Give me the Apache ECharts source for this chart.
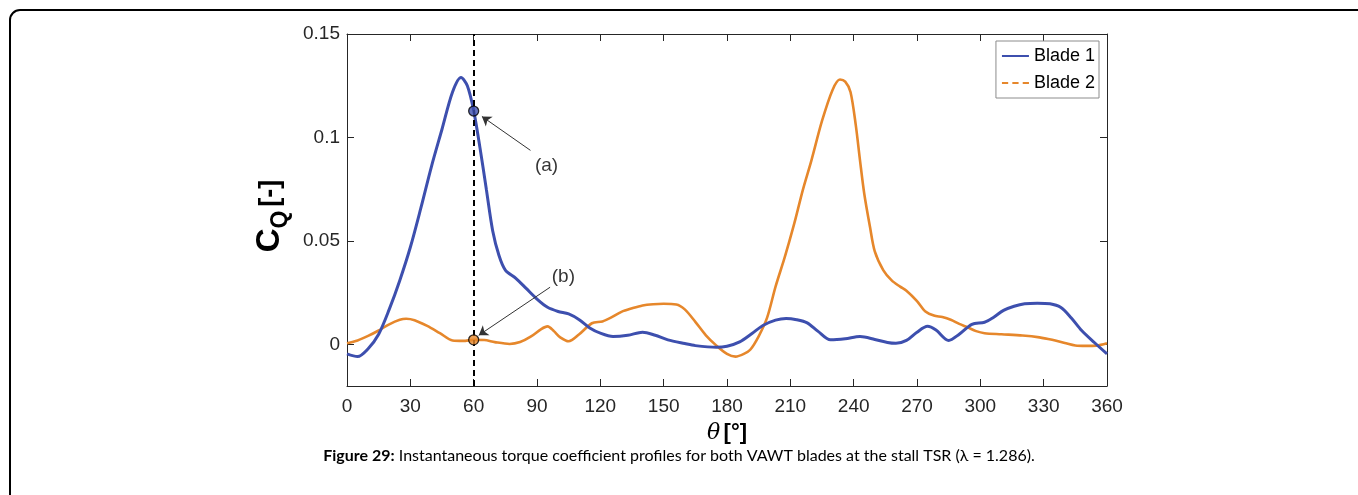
<!DOCTYPE html>
<html>
<head>
<meta charset="utf-8">
<script src="https://cdn.jsdelivr.net/npm/echarts@6/dist/echarts.min.js"></script>
<style>
html,body{margin:0;padding:0;background:#fff;}
#chart{width:1358px;height:495px;}
</style>
</head>
<body>
<div id="chart"></div>
<script>
// ---- data ----
const blade1Theta = [0,5,10,15,20,25,30,35,40,45,50,54,57,60,63,66,69,72,75,80,85,90,95,100,105,110,115,120,126,133,140,146,152,160,165,175,180,186,192,197,203,208,213,218,223,229,236,243,250,256,260,265,270,275,279,285,290,296,302,306,311,316,321,327,333,338,343,348,354,360];
const blade1Cq = [-0.0045,-0.0058,-0.002,0.005,0.017,0.031,0.047,0.066,0.086,0.104,0.122,0.129,0.125,0.113,0.095,0.075,0.055,0.043,0.036,0.032,0.027,0.022,0.018,0.016,0.0148,0.012,0.008,0.0055,0.0039,0.0045,0.006,0.0045,0.0023,0.0005,-0.0005,-0.0013,-0.0008,0.0013,0.0055,0.0092,0.0118,0.0126,0.012,0.0105,0.0065,0.0023,0.0028,0.0039,0.0025,0.001,0.0006,0.002,0.006,0.0088,0.007,0.002,0.005,0.0098,0.0108,0.013,0.0165,0.0185,0.0197,0.02,0.0197,0.018,0.013,0.0068,0.001,-0.0045];
const blade2Theta = [0,5,10,15,20,25,28,32,38,44,50,55,60,65,70,77,82,87,92,95,98,101,105,110,116,121,125,130,135,140,145,150,156,160,165,170,175,180,184,188,191,195,199,203,207,209,212,216,220,225,230,233.5,236,238.5,241,243,245,247.7,250,254,258,262,265,270,274,278,282,286,290,294,298,302,310,320,328,334,340,345,350,355,360];
const blade2Cq = [0.0006,0.002,0.0042,0.0068,0.0098,0.012,0.0125,0.0118,0.009,0.0055,0.002,0.0018,0.0023,0.0022,0.0012,0.0003,0.0012,0.0038,0.0075,0.0088,0.0065,0.0035,0.0016,0.005,0.0103,0.0112,0.013,0.0158,0.0175,0.0189,0.0195,0.0197,0.0194,0.017,0.011,0.0045,-0.0005,-0.0045,-0.0058,-0.0045,-0.0025,0.004,0.013,0.028,0.041,0.048,0.059,0.075,0.089,0.108,0.123,0.128,0.127,0.122,0.106,0.089,0.073,0.057,0.045,0.036,0.031,0.028,0.026,0.021,0.016,0.014,0.0133,0.012,0.010,0.0083,0.0065,0.0055,0.005,0.0044,0.0035,0.0023,0.0008,-0.0004,-0.0006,-0.0005,0.0006];
const seriesNames = ['Blade 1','Blade 2'];
const xTicks = [0,30,60,90,120,150,180,210,240,270,300,330,360];
const yTicks = [0,0.05,0.1,0.15];
const markerTheta = 60;
const markerA = [60, 0.1128];
const markerB = [60, 0.0023];
const arrowA = [[86.9,0.0938],[63.9,0.1102]];
const arrowB = [[96.2,0.0277],[62.4,0.0045]];
const labelA = [94.5,0.0866];
const labelB = [102.5,0.0328];

const blue = '#3D4FAE';
const orange = '#E6872B';
const axisColor = '#262626';

function pairs(xs, ys){ return xs.map((x,i)=>[x, ys[i]]); }

const chart = echarts.init(document.getElementById('chart'));
const tickFont = {fontFamily:'Liberation Sans', fontSize:19, color:axisColor};

const option = {
  animation:false,
  backgroundColor:'#fff',
  grid:{left:347, right:251, top:34, bottom:109, containLabel:false},
  legend:{
    orient:'vertical', top:41, right:259,
    itemWidth:27, itemHeight:14, itemGap:9,
    padding:[6,4,6,6],
    borderColor:'#8c8c8c', borderWidth:1, backgroundColor:'#fff',
    textStyle:{fontFamily:'Liberation Sans', fontSize:18, color:'#000'},
    data:[
      {name:seriesNames[0], icon:'path://M0,6 L27,6 L27,8 L0,8 Z', itemStyle:{color:blue}},
      {name:seriesNames[1], icon:'path://M0,6 L6,6 L6,8 L0,8 Z M10,6 L16,6 L16,8 L10,8 Z M20,6 L26,6 L26,8 L20,8 Z', itemStyle:{color:orange}}
    ]
  },
  xAxis:[
    {type:'value', min:0, max:360, interval:30, position:'bottom',
     name:'{t|θ} {b|[°]}', nameLocation:'middle', nameGap:36,
     nameTextStyle:{rich:{
       t:{fontFamily:'DejaVu Serif', fontStyle:'italic', fontSize:22, color:'#000'},
       b:{fontFamily:'Liberation Sans', fontWeight:'bold', fontSize:22, color:'#000'}
     }},
     axisLine:{show:true, onZero:false, lineStyle:{color:axisColor, width:1}},
     axisTick:{show:true, inside:true, length:7, lineStyle:{color:axisColor}},
     axisLabel:{...tickFont, margin:11},
     splitLine:{show:false}},
    {type:'value', min:0, max:360, interval:30, position:'top',
     axisLine:{show:true, onZero:false, lineStyle:{color:axisColor, width:1}},
     axisTick:{show:true, inside:true, length:7, lineStyle:{color:axisColor}},
     axisLabel:{show:false}, splitLine:{show:false}}
  ],
  yAxis:[
    {type:'value', min:-0.02, max:0.15, position:'left',
     name:'{c|C}{q|Q}{s| }{u|[-]}', nameLocation:'middle', nameRotate:90, nameGap:52,
     nameTextStyle:{padding:[0,12,0,0], rich:{
       c:{fontFamily:'Liberation Sans', fontWeight:'bold', fontSize:33, color:'#000', lineHeight:44, verticalAlign:'middle'},
       q:{fontFamily:'Liberation Sans', fontWeight:'bold', fontSize:23, color:'#000', lineHeight:44, verticalAlign:'bottom'},
       s:{fontSize:14, lineHeight:44},
       u:{fontFamily:'Liberation Sans', fontWeight:'bold', fontSize:27, color:'#000', lineHeight:44, verticalAlign:'middle'}
     }},
     axisLine:{show:true, onZero:false, lineStyle:{color:axisColor, width:1}},
     axisTick:{show:true, inside:true, length:7, customValues:yTicks, lineStyle:{color:axisColor}},
     axisLabel:{...tickFont, margin:7, customValues:yTicks},
     splitLine:{show:false}},
    {type:'value', min:-0.02, max:0.15, position:'right',
     axisLine:{show:true, onZero:false, lineStyle:{color:axisColor, width:1}},
     axisTick:{show:true, inside:true, length:7, customValues:yTicks, lineStyle:{color:axisColor}},
     axisLabel:{show:false}, splitLine:{show:false}}
  ],
  series:[
    {name:seriesNames[0], type:'line', data:pairs(blade1Theta, blade1Cq), symbol:'none',
     smooth:0.3, lineStyle:{color:blue, width:3}, itemStyle:{color:blue}, z:3,
     markLine:{silent:true, symbol:'none', label:{show:false},
       lineStyle:{color:'#000', width:2, type:[6,4]},
       data:[{xAxis:markerTheta}]}},
    {name:seriesNames[1], type:'line', data:pairs(blade2Theta, blade2Cq), symbol:'none',
     smooth:0.3, lineStyle:{color:orange, width:2.6}, itemStyle:{color:orange}, z:2},
    {name:'markers', type:'scatter', z:5, symbolSize:10,
     data:[
       {value:markerA, itemStyle:{color:blue, borderColor:'#000', borderWidth:1.3}},
       {value:markerB, itemStyle:{color:orange, borderColor:'#000', borderWidth:1.3}}
     ]},
    {name:'arrows', type:'lines', coordinateSystem:'cartesian2d', z:6,
     symbol:['none','arrow'], symbolSize:[0,9],
     lineStyle:{color:'#333', width:1, opacity:1},
     data:[{coords:arrowA},{coords:arrowB}]},
    {name:'labels', type:'scatter', z:6, symbolSize:0,
     label:{show:true, position:'inside', fontFamily:'Liberation Sans', fontSize:19, color:'#000',
       formatter:p=>p.data.text},
     data:[{value:labelA, text:'(a)'},{value:labelB, text:'(b)'}]}
  ],
  graphic:[
    {type:'rect', shape:{x:10, y:10, width:1420, height:620, r:10},
     style:{fill:'none', stroke:'#000', lineWidth:2}, silent:true, z:-1},
    {type:'text', left:'center', top:448,
     style:{text:'{b|Figure 29:} Instantaneous torque coefficient profiles for both VAWT blades at the stall TSR (λ = 1.286).',
       fontFamily:'Lato', fontSize:16, fill:'#000',
       rich:{b:{fontFamily:'Lato', fontWeight:'bold', fontSize:16, fill:'#000'}}}}
  ]
};
chart.setOption(option);
</script>
</body>
</html>
